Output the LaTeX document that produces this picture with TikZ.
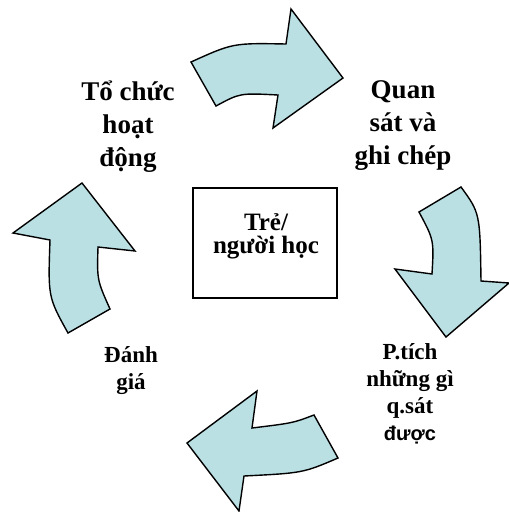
\documentclass[tikz,border=0pt]{standalone}
\usepackage{fontspec}
\setmainfont{Liberation Serif}
\newfontfamily\arialf{Liberation Sans}
\definecolor{arrowfill}{RGB}{186,224,228}
\begin{document}
\begin{tikzpicture}[x=1pt,y=-1pt,
  bigarrow/.style={draw=black, fill=arrowfill, line width=1.4pt, line join=miter},
  biglabel/.style={align=center, font=\fontsize{27}{33}\selectfont\bfseries, inner sep=0pt},
  midlabel/.style={align=center, font=\fontsize{23}{27}\selectfont\bfseries, inner sep=0pt},
  boxlabel/.style={align=center, font=\fontsize{25}{23}\selectfont\bfseries, inner sep=0pt},
  centerbox/.style={draw=black, line width=1.4pt, minimum width=144pt, minimum height=110pt, inner sep=0pt}]
\useasboundingbox (0,0) rectangle (509,512);
% top arrow
\draw[bigarrow] (191,62) .. controls (233,43) .. (286,44) -- (291,9) -- (343,78) -- (273,128) -- (278,95) .. controls (240,93) .. (216,106) -- cycle;
% right arrow
\draw[bigarrow] (419,212) -- (461,187) .. controls (480,213) .. (481,281) -- (509,283) -- (446,337) -- (395,269) -- (432,274) .. controls (434,240) .. (419,212) -- cycle;
% bottom arrow
\draw[bigarrow] (314,415) -- (338,458) .. controls (303,473) .. (244,476) -- (239,511) -- (187,443) -- (257,391) -- (252,428) .. controls (293,423) .. (314,415) -- cycle;
% left arrow
\draw[bigarrow] (68,333) -- (110,309) .. controls (97,280) .. (98,247) -- (135,251) -- (82,183) -- (13,233) -- (50,240) .. controls (48,297) .. (68,333) -- cycle;
% center box
\node[centerbox] (box) at (265,243) {};
\node[boxlabel] (boxtext) at (266,236) {Trẻ/\\người học};
% labels
\node[biglabel] (tochuc) at (128,127) {Tổ chức\\hoạt\\động};
\node[biglabel] (quansat) at (403,126) {Quan\\sát và\\ghi chép};
\node[midlabel] (ptich) at (410,394) {P.tích\\những gì\\q.sát\\{\arialf\fontsize{20}{27}\selectfont được}};
\node[midlabel] (danhgia) at (131,371) {Đánh\\giá};
\end{tikzpicture}
\end{document}
